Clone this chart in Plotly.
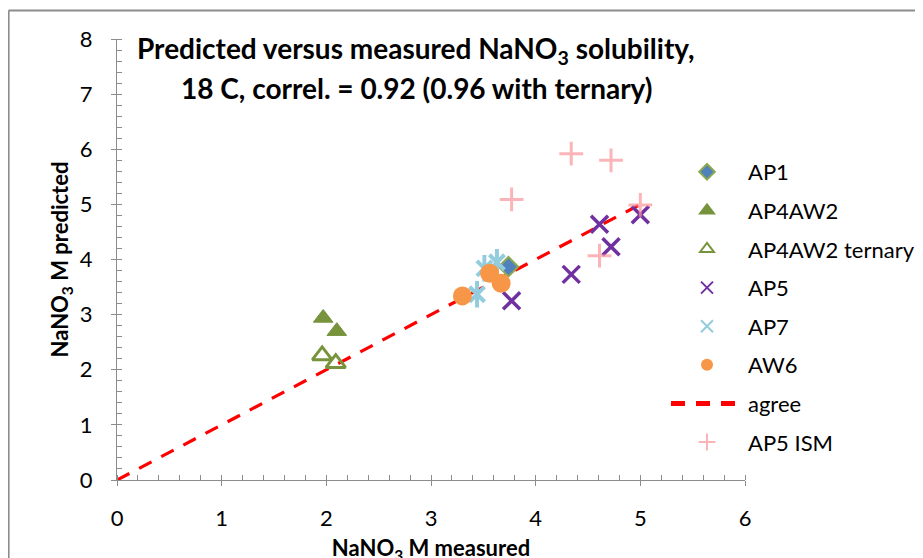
import plotly.graph_objects as go

# ---- data ----
ap1_x = [3.74]
ap1_y = [3.87]

ap4aw2_x = [1.97, 2.10]
ap4aw2_y = [2.94, 2.70]

ap4aw2_tern_x = [1.96, 2.09]
ap4aw2_tern_y = [2.26, 2.12]

ap5_x = [3.77, 4.34, 4.61, 4.72, 5.00]
ap5_y = [3.25, 3.73, 4.64, 4.23, 4.81]

ap7_x = [3.44, 3.63, 3.51]
ap7_y = [3.37, 3.95, 3.84]

aw6_x = [3.30, 3.56, 3.67]
aw6_y = [3.34, 3.75, 3.57]

agree_x = [0, 5]
agree_y = [0, 5]

ap5ism_x = [4.34, 4.72, 3.77, 4.61, 5.00]
ap5ism_y = [5.92, 5.80, 5.09, 4.07, 4.99]

x_ticks = [0, 1, 2, 3, 4, 5, 6]
y_ticks = [0, 1, 2, 3, 4, 5, 6, 7, 8]

FONT = "Lato"
W, H = 923, 558
OFF = 8  # page body margin offset
# plot area in screenshot pixels: x 117..745, y 39..480
ML = 117 - OFF
MT = 39 - OFF
MR = W - (745 - OFF)
MB = H - (480 - OFF)
PW, PH = W - ML - MR, H - MT - MB


def xp(px):
    return (px - OFF - ML) / PW


def yp(py):
    return (H - MB - (py - OFF)) / PH


fig = go.Figure()

fig.add_trace(go.Scatter(
    x=agree_x, y=agree_y, mode="lines", name="agree", legendrank=7,
    legendgroup="g7",
    line=dict(color="#FF0000", width=3.2, dash="14px,11px")))

fig.add_trace(go.Scatter(
    x=ap1_x, y=ap1_y, mode="markers", name="AP1", legendrank=1, legendgroup="g1",
    marker=dict(symbol="diamond", size=15, color="#4F81BD",
                line=dict(color="#8EA84F", width=2))))

fig.add_trace(go.Scatter(
    x=ap4aw2_x, y=ap4aw2_y, mode="markers", name="AP4AW2", legendrank=2, legendgroup="g2",
    marker=dict(symbol="triangle-up", size=17, color="#77933C",
                line=dict(color="#77933C", width=1))))

fig.add_trace(go.Scatter(
    x=ap4aw2_tern_x, y=ap4aw2_tern_y, mode="markers", name="AP4AW2 ternary",
    legendrank=3, legendgroup="g3",
    marker=dict(symbol="triangle-up-open", size=17, color="#77933C",
                line=dict(color="#77933C", width=3))))

fig.add_trace(go.Scatter(
    x=ap5_x, y=ap5_y, mode="markers", name="AP5", legendrank=4, legendgroup="g4",
    marker=dict(symbol="x-thin-open", size=17, color="#7030A0",
                line=dict(color="#7030A0", width=3.5))))

# AP7: Excel-style asterisk (X plus vertical bar)
fig.add_trace(go.Scatter(
    x=ap7_x, y=ap7_y, mode="markers", name="AP7", legendrank=5, legendgroup="g5",
    marker=dict(symbol="x-thin-open", size=15, color="#93CDDD",
                line=dict(color="#93CDDD", width=4))))
fig.add_trace(go.Scatter(
    x=ap7_x, y=ap7_y, mode="markers", name="AP7", legendgroup="g5", showlegend=False,
    marker=dict(symbol="line-ns-open", size=19, color="#93CDDD",
                line=dict(color="#93CDDD", width=4))))

fig.add_trace(go.Scatter(
    x=aw6_x, y=aw6_y, mode="markers", name="AW6", legendrank=6, legendgroup="g6",
    marker=dict(symbol="circle", size=19, color="#F79646",
                line=dict(color="#F79646", width=0))))

fig.add_trace(go.Scatter(
    x=ap5ism_x, y=ap5ism_y, mode="markers", name="AP5 ISM", legendrank=8, legendgroup="g8",
    marker=dict(symbol="cross-thin-open", size=17, color="rgba(250,150,155,0.7)",
                line=dict(color="rgba(250,150,155,0.7)", width=3))))

axis_common = dict(
    showgrid=False, zeroline=False, showline=True, linecolor="#8C8C8C", linewidth=1.3,
    ticks="outside", ticklen=5, tickcolor="#8C8C8C", tickwidth=1.3,
    tickfont=dict(family=FONT, size=22, color="#000000"),
    automargin=False,
)

fig.update_xaxes(
    range=[0, 6], tickvals=x_ticks, ticktext=[str(v) for v in x_ticks],
    minor=dict(ticks="inside", dtick=0.2, ticklen=5, tickcolor="#8C8C8C", tickwidth=1.2),
    ticklabelstandoff=13,
    title=dict(text="<b>NaNO<sub>3</sub> M measured</b>", standoff=11,
               font=dict(family=FONT, size=22, color="#000000")),
    **axis_common)
fig.update_yaxes(
    range=[0, 8], tickvals=y_ticks, ticktext=[str(v) for v in y_ticks],
    minor=dict(ticks="inside", dtick=0.2, ticklen=5, tickcolor="#8C8C8C", tickwidth=1.2),
    ticklabelstandoff=14,
    title=dict(text="<b>NaNO<sub>3</sub> M predicted</b>", standoff=4,
               font=dict(family=FONT, size=22, color="#000000")),
    **axis_common)

# inside halves of the crossing major ticks
fig.update_layout(
    xaxis2=dict(overlaying="x", range=[0, 6], tickvals=x_ticks, showticklabels=False,
                ticks="inside", ticklen=5, tickcolor="#8C8C8C", tickwidth=1.3,
                showgrid=False, zeroline=False, showline=False, side="bottom",
                automargin=False),
    yaxis2=dict(overlaying="y", range=[0, 8], tickvals=y_ticks, showticklabels=False,
                ticks="inside", ticklen=5, tickcolor="#8C8C8C", tickwidth=1.3,
                showgrid=False, zeroline=False, showline=False, side="left",
                automargin=False),
)
fig.add_trace(go.Scatter(x=[None], y=[None], xaxis="x2", yaxis="y2",
                         showlegend=False, hoverinfo="skip"))

# title lines
cx = xp(416)
fig.add_annotation(text="<b>Predicted versus measured NaNO<sub>3</sub> solubility,</b>",
                   xref="paper", yref="paper", x=cx, y=yp(50),
                   showarrow=False, font=dict(family=FONT, size=28, color="#000000"),
                   xanchor="center", yanchor="middle")
fig.add_annotation(text="<b>18 C, correl. = 0.92 (0.96 with ternary)</b>",
                   xref="paper", yref="paper", x=cx, y=yp(88),
                   showarrow=False, font=dict(family=FONT, size=28, color="#000000"),
                   xanchor="center", yanchor="middle")

# chart-area frame (left and top edges visible)
fx0, fx1 = xp(8.5), xp(W + 20)
fy1, fy0 = yp(10.5), yp(H + 20)
fig.add_shape(type="line", xref="paper", yref="paper", x0=fx0, x1=fx1, y0=fy1, y1=fy1,
              line=dict(color="#8C8C8C", width=2.2))
fig.add_shape(type="line", xref="paper", yref="paper", x0=fx0, x1=fx0, y0=fy0, y1=fy1,
              line=dict(color="#8C8C8C", width=2.2))

fig.update_layout(
    width=W, height=H,
    margin=dict(l=ML, r=MR, t=MT, b=MB, autoexpand=False),
    paper_bgcolor="#FFFFFF", plot_bgcolor="#FFFFFF",
    showlegend=True,
    legend=dict(x=xp(666), y=yp(151), xanchor="left", yanchor="top",
                font=dict(family=FONT, size=22, color="#000000"),
                bgcolor="rgba(0,0,0,0)", tracegroupgap=7, itemwidth=72,
                itemsizing="constant", traceorder="grouped"),
    font=dict(family=FONT),
)

fig.write_html("out.html")
